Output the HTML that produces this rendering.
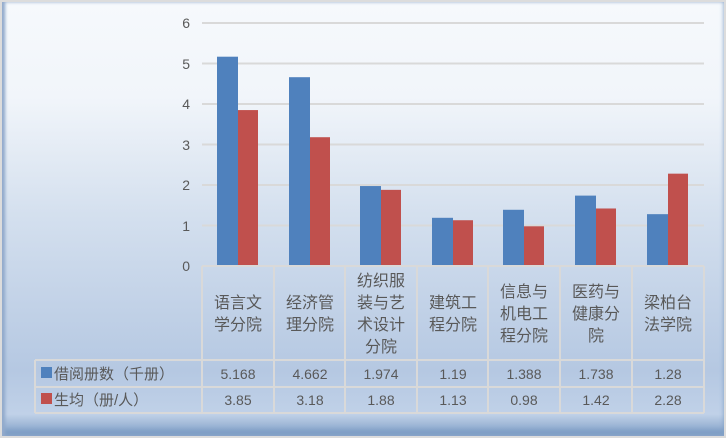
<!DOCTYPE html>
<html><head><meta charset="utf-8"><style>
body{margin:0;width:726px;height:438px;overflow:hidden;background:#dcdcdc}
#c{position:absolute;left:2px;top:2px;width:722px;height:434px;
background:linear-gradient(to bottom,#f6f9fc 0%,#f1f5fa 22%,#d3dfee 50%,#b5c8e2 85%,#c0d1e8 95%,#7d9cc4 100%);
box-shadow:inset 3px 0 3px #93abcc, inset 0 -6px 5px #7f9fc6;}
</style></head><body><div id="c"></div>
<svg width="726" height="438" style="position:absolute;left:0;top:0" font-family="Liberation Sans, Noto Sans CJK SC, sans-serif" fill="#595959">
<g stroke="#d9d9d9" stroke-width="2">
<line x1="202" x2="704" y1="23" y2="23"/><line x1="202" x2="704" y1="63.5" y2="63.5"/>
<line x1="202" x2="704" y1="104" y2="104"/><line x1="202" x2="704" y1="144.5" y2="144.5"/>
<line x1="202" x2="704" y1="185" y2="185"/><line x1="202" x2="704" y1="225.5" y2="225.5"/>
</g>
<g font-size="14" text-anchor="end">
<text x="190" y="28">6</text><text x="190" y="69">5</text><text x="190" y="109">4</text>
<text x="190" y="150">3</text><text x="190" y="190">2</text><text x="190" y="231">1</text><text x="190" y="271">0</text>
</g>
<g id="bars"></g>
<g stroke="#d9d9d9" stroke-width="2" fill="none">
<line x1="202" x2="704" y1="266" y2="266"/>
<line x1="35" x2="704" y1="360" y2="360"/>
<line x1="35" x2="704" y1="387" y2="387"/>
<line x1="35" x2="704" y1="413" y2="413"/>
<line x1="35" x2="35" y1="360" y2="413"/>
<line x1="202" x2="202" y1="266" y2="413"/><line x1="274" x2="274" y1="266" y2="413"/>
<line x1="345" x2="345" y1="266" y2="413"/><line x1="417" x2="417" y1="266" y2="413"/>
<line x1="488" x2="488" y1="266" y2="413"/><line x1="560" x2="560" y1="266" y2="413"/>
<line x1="632" x2="632" y1="266" y2="413"/><line x1="704" x2="704" y1="266" y2="413"/>
</g>
<rect x="41" y="367" width="11" height="11" fill="#4f81bd"/>
<rect x="41" y="393" width="11" height="11" fill="#c0504d"/>
<text x="54" y="379" font-size="15">借阅册数（千册）</text>
<text x="54" y="405" font-size="15">生均（册/人）</text>
<g font-size="16" text-anchor="middle" id="cats"></g>
<g font-size="14" text-anchor="middle" id="vals"></g>
</svg>
<script>
var b=[5.168,4.662,1.974,1.19,1.388,1.738,1.28],r=[3.85,3.18,1.88,1.13,0.98,1.42,2.28];
var cols=[202,274,345,417,488,560,632];
var cats=[["语言文","学分院"],["经济管","理分院"],["纺织服","装与艺","术设计","分院"],["建筑工","程分院"],["信息与","机电工","程分院"],["医药与","健康分","院"],["梁柏台","法学院"]];
var s="",c="",v="";
for(var i=0;i<7;i++){var x=cols[i],cx=x+36;
var hb=b[i]*40.5,hr=r[i]*40.5;
s+='<rect x="'+(x+15)+'" y="'+(266-hb)+'" width="21" height="'+hb+'" fill="#4f81bd"/>';
s+='<rect x="'+(x+36)+'" y="'+(266-hr)+'" width="20" height="'+hr+'" fill="#c0504d"/>';
var L=cats[i],y0=313-(L.length-1)*11+6;
for(var j=0;j<L.length;j++)c+='<text x="'+cx+'" y="'+(y0+j*22)+'">'+L[j]+'</text>';
v+='<text x="'+cx+'" y="379">'+b[i]+'</text><text x="'+cx+'" y="405">'+r[i].toFixed(2).replace(/0$/,'').replace(/\.$/,'')+'</text>';}
document.getElementById('bars').innerHTML=s;document.getElementById('cats').innerHTML=c;document.getElementById('vals').innerHTML=v;
</script>
</body></html>
